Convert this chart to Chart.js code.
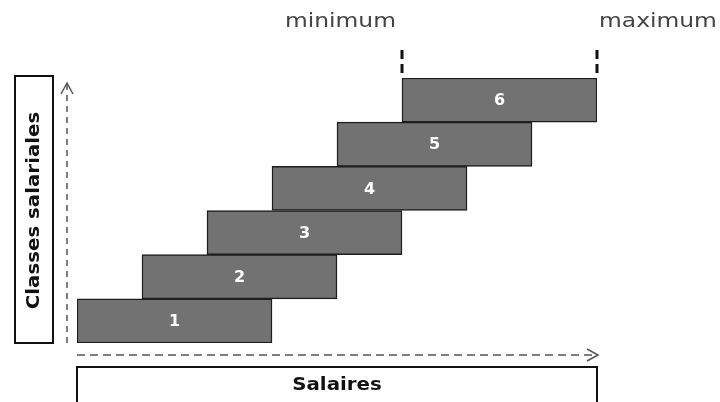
<!DOCTYPE html>
<html>
<head>
<meta charset="utf-8">
<script src="https://cdn.jsdelivr.net/npm/chart.js@4"></script>
<style>
    html, body { margin: 0; padding: 0; background: #fff; }
    #salaryChart { display: block; }
</style>
</head>
<body>
<canvas id="salaryChart" width="720" height="402"></canvas>
<script>
// Salary classes and their salary range (arbitrary units)
const classLabels = ['1', '2', '3', '4', '5', '6'];
const salaryMin = [0, 1, 2, 3, 4, 5];
const salaryMax = [3, 4, 5, 6, 7, 8];
const yAxisTitle = 'Classes salariales';
const xAxisTitle = 'Salaires';
const minLabel = 'minimum';
const maxLabel = 'maximum';

const regularFont = '"DejaVu Sans", sans-serif';
const boldFont = '"DejaVu Sans", sans-serif';

// stretched text, the original font is wider than anything installed
function wideText(ctx, text, x, y, stretch, align) {
    ctx.save();
    ctx.translate(x, y);
    ctx.scale(stretch, 1);
    ctx.textAlign = align;
    ctx.fillText(text, 0, 0);
    ctx.restore();
}

// Draws the arrows, the boxed titles and the bar numbers
const decorPlugin = {
    id: 'decor',
    afterDatasetsDraw(chart) {
        const ctx = chart.ctx;
        const area = chart.chartArea;
        const xScale = chart.scales.x;
        ctx.save();

        // bar numbers
        const meta = chart.getDatasetMeta(0);
        ctx.fillStyle = '#ffffff';
        ctx.font = 'bold 16px ' + boldFont;
        ctx.textAlign = 'center';
        ctx.textBaseline = 'middle';
        meta.data.forEach(function (bar, i) {
            const cx = (bar.x + bar.base) / 2;
            ctx.fillText(classLabels[i], cx, bar.y + 1);
        });

        ctx.strokeStyle = '#555';
        ctx.lineWidth = 1.5;

        // vertical dashed arrow
        const ax = area.left - 10;
        ctx.setLineDash([6, 5]);
        ctx.beginPath();
        ctx.moveTo(ax, area.bottom);
        ctx.lineTo(ax, area.top + 6);
        ctx.stroke();
        ctx.setLineDash([]);
        ctx.beginPath();
        ctx.moveTo(ax - 6, area.top + 16);
        ctx.lineTo(ax, area.top + 5);
        ctx.lineTo(ax + 6, area.top + 16);
        ctx.stroke();

        // horizontal dashed arrow
        const ay = area.bottom + 12;
        ctx.setLineDash([8, 5]);
        ctx.beginPath();
        ctx.moveTo(area.left, ay);
        ctx.lineTo(area.right, ay);
        ctx.stroke();
        ctx.setLineDash([]);
        ctx.beginPath();
        ctx.moveTo(area.right - 10, ay - 6);
        ctx.lineTo(area.right + 1, ay);
        ctx.lineTo(area.right - 10, ay + 6);
        ctx.stroke();

        // boxes
        ctx.strokeStyle = '#111';
        ctx.lineWidth = 2;
        ctx.strokeRect(15, area.top - 2, 38, area.bottom - area.top + 2);
        ctx.strokeRect(area.left, area.bottom + 24, area.right - area.left, 60);

        // box titles
        ctx.fillStyle = '#111';
        ctx.font = 'bold 18px ' + boldFont;
        wideText(ctx, xAxisTitle, (area.left + area.right) / 2, area.bottom + 42, 1.1, 'center');
        ctx.save();
        ctx.translate(34, (area.top + area.bottom) / 2);
        ctx.rotate(-Math.PI / 2);
        wideText(ctx, yAxisTitle, 0, 0, 1.1, 'center');
        ctx.restore();

        // minimum / maximum marks above the top class
        const last = classLabels.length - 1;
        const xMin = xScale.getPixelForValue(salaryMin[last]);
        const xMax = xScale.getPixelForValue(salaryMax[last]);
        ctx.strokeStyle = '#111';
        ctx.lineWidth = 3;
        ctx.setLineDash([9, 5]);
        [xMin, xMax].forEach(function (x) {
            ctx.beginPath();
            ctx.moveTo(x, area.top - 28);
            ctx.lineTo(x, area.top);
            ctx.stroke();
        });
        ctx.setLineDash([]);

        ctx.fillStyle = '#444';
        ctx.font = '20px ' + regularFont;
        wideText(ctx, minLabel, xMin - 6, 22, 1.17, 'right');
        wideText(ctx, maxLabel, xMax + 2, 22, 1.17, 'left');

        ctx.restore();
    }
};

const ranges = salaryMin.map(function (m, i) { return [m, salaryMax[i]]; });

new Chart(document.getElementById('salaryChart'), {
    type: 'bar',
    data: {
        labels: classLabels,
        datasets: [{
            data: ranges,
            backgroundColor: '#727272',
            borderColor: '#1e1e1e',
            borderWidth: 1.5,
            borderSkipped: false,
            barPercentage: 1,
            categoryPercentage: 1
        }]
    },
    options: {
        indexAxis: 'y',
        responsive: false,
        animation: false,
        layout: { padding: { left: 77, right: 123, top: 78, bottom: 59 } },
        scales: {
            x: { display: false, min: 0, max: 8 },
            y: { display: false, reverse: true }
        },
        plugins: {
            legend: { display: false },
            tooltip: { enabled: false }
        }
    },
    plugins: [decorPlugin]
});
</script>
</body>
</html>
